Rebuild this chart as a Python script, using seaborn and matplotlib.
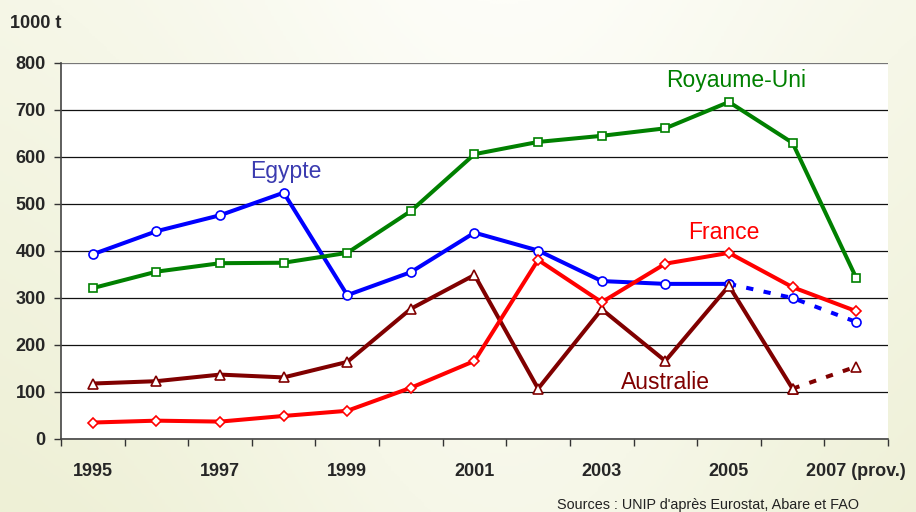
import numpy as np
import pandas as pd
import matplotlib
matplotlib.use("Agg")
import matplotlib.pyplot as plt
import seaborn as sns
from matplotlib.colors import LinearSegmentedColormap

# ---- data (1000 t) ----
years = list(range(1995, 2008))
year_labels = ["1995", "", "1997", "", "1999", "", "2001", "", "2003", "", "2005", "", "2007 (prov.)"]
egypte = [393, 442, 476, 524, 306, 355, 439, 401, 336, 330, 330, 300, 249]
royaume_uni = [321, 356, 374, 375, 396, 485, 606, 632, 645, 661, 717, 630, 343]
france = [35, 39, 37, 49, 60, 109, 166, 381, 291, 373, 396, 323, 272]
australie = [118, 123, 137, 131, 164, 277, 349, 107, 276, 166, 326, 107, 154]
y_ticks = [0, 100, 200, 300, 400, 500, 600, 700, 800]

sns.set_style("ticks")
plt.rcParams['font.family'] = ['Liberation Sans', 'DejaVu Sans']

fig = plt.figure(figsize=(9.16, 5.12), dpi=100)

# background gradient
bg = fig.add_axes([0, 0, 1, 1], zorder=-10)
xx = np.linspace(0, 1, 300)
yy = np.linspace(0, 1, 200)
X, Y = np.meshgrid(xx, yy)
val = 0.55 * np.exp(-((X - 0.55) ** 2) / 0.12) + 0.45 * Y
cmap = LinearSegmentedColormap.from_list("bgc", ["#EEF0D6", "#F6F7E8", "#FDFDF8"])
bg.imshow(val, aspect='auto', extent=[0, 1, 0, 1], cmap=cmap, origin='lower')
bg.axis('off')

ax = fig.add_axes([0.0666, 0.1426, 0.9028, 0.7344])
ax.set_facecolor('white')

pos = np.arange(len(years))
series = [
    ("Egypte", egypte, "#0000FF", "o", 10),
    ("Royaume-Uni", royaume_uni, "#008000", "s", 12),
    ("Australie", australie, "#800000", "^", 11),
    ("France", france, "#FF0000", "D", 12),
]
msize = {"o": 6.5, "s": 6, "^": 6.5, "D": 5.5}
LW = 2.9
for name, vals, col, mk, solid_end in series:
    df = pd.DataFrame({"pos": pos, "val": vals})
    solid = df.iloc[:solid_end + 1]
    sns.lineplot(data=solid, x="pos", y="val", ax=ax, color=col, lw=LW,
                 marker=mk, markersize=msize[mk], markerfacecolor="white",
                 markeredgecolor=col, markeredgewidth=1.2, zorder=3)
    if solid_end < len(vals) - 1:
        dashed = df.iloc[solid_end:]
        sns.lineplot(data=dashed, x="pos", y="val", ax=ax, color=col, lw=LW,
                     linestyle=(0, (1.8, 2.6)), marker=mk, markersize=msize[mk],
                     markerfacecolor="white", markeredgecolor=col,
                     markeredgewidth=1.2, zorder=3)

ax.set_xlim(-0.5, len(years) - 0.5)
ax.set_ylim(0, 800)
ax.set_yticks(y_ticks)
ax.set_yticklabels([str(v) for v in y_ticks], fontsize=13, fontweight='bold')
ax.set_xticks(pos)
ax.set_xticklabels(year_labels, fontsize=13, fontweight='bold')
ax.set_xticks(np.arange(-0.5, len(years)), minor=True)
ax.tick_params(axis='x', which='major', length=0, pad=17)
ax.tick_params(axis='x', which='minor', length=5, width=1, color='#333333', direction='out')
ax.tick_params(axis='y', length=5, width=1, color='#333333', direction='out', pad=6)
ax.set_xlabel("")
ax.set_ylabel("")

ax.yaxis.grid(True, color='#111111', lw=0.9, zorder=1)
ax.set_axisbelow(True)
glines = ax.get_ygridlines()
glines[-1].set_color('#777777')

for s in ["top", "right"]:
    ax.spines[s].set_visible(False)
for s in ["left", "bottom"]:
    ax.spines[s].set_color('#444444')
    ax.spines[s].set_linewidth(1.2)

# series labels
ax.text(3.04, 570, "Egypte", color="#3B3BB0", fontsize=16.5, ha='center', va='center')
ax.text(10.12, 762, "Royaume-Uni", color="#008000", fontsize=16.5, ha='center', va='center')
ax.text(9.92, 440, "France", color="#FF0000", fontsize=16.5, ha='center', va='center')
ax.text(9.0, 121, "Australie", color="#800000", fontsize=16.5, ha='center', va='center')

fig.text(0.011, 0.955, "1000 t", fontsize=13, fontweight='bold', ha='left', va='center')
fig.text(0.608, 0.013, "Sources : UNIP d'après Eurostat, Abare et FAO", fontsize=10.4,
         ha='left', va='center', color='#222222')

fig.savefig("out.png", dpi=100)
